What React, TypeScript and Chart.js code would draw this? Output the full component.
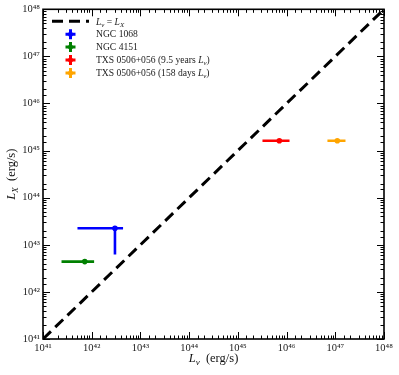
import React, { useEffect, useRef } from 'react';
import { Chart, registerables } from 'chart.js';

Chart.register(...registerables);

const SERIF = '"Liberation Serif", "DejaVu Serif", serif';

// Axis range (erg/s)
const axisMin = 1e41;
const axisMax = 1e48;

// Diagonal L_nu = L_X
const diagonal = [1e41, 1e48];

// Sources
const sourceNames = ['NGC 1068', 'NGC 4151', 'TXS 0506+056 (9.5 years ', 'TXS 0506+056 (158 days '];
const sourceHasNu = [false, false, true, true];
const sourceColors = ['#0000ff', '#008000', '#ff0000', '#ffa500'];
const lnuValues = [3.0e42, 7.2e41, 7.1e45, 1.1e47];
const lxValues = [2.24e43, 4.4e42, 1.62e45, 1.62e45];
const lnuLow = [5.1e41, 2.4e41, 3.2e45, 6.9e46];
const lnuHigh = [4.4e42, 1.12e42, 1.15e46, 1.62e47];
const lxLow = [6.2e42, null, null, null];
const lxHigh = [2.24e43, null, null, null];

const SUP: Record<string, string> = { '0': '⁰', '1': '¹', '2': '²', '3': '³', '4': '⁴', '5': '⁵', '6': '⁶', '7': '⁷', '8': '⁸', '9': '⁹', '-': '⁻' };
const toSup = (n: number) => String(n).split('').map((c) => SUP[c] || c).join('');

const tickLabel = (v: any) => {
  const e = Math.log10(Number(v));
  const r = Math.round(e);
  if (Math.abs(e - r) < 1e-6) return '10' + toSup(r);
  return '';
};

type Part = { t: string; it?: boolean; sub?: boolean };

function drawParts(ctx: CanvasRenderingContext2D, parts: Part[], x: number, y: number, size: number, align: 'left' | 'center' = 'left') {
  const fontFor = (p: Part) => `${p.it ? 'italic ' : ''}${p.sub ? size * 0.72 : size}px ${SERIF}`;
  let total = 0;
  for (const p of parts) {
    ctx.font = fontFor(p);
    total += ctx.measureText(p.t).width;
  }
  let cx = align === 'center' ? x - total / 2 : x;
  ctx.textAlign = 'left';
  ctx.textBaseline = 'alphabetic';
  for (const p of parts) {
    ctx.font = fontFor(p);
    ctx.fillText(p.t, cx, y + (p.sub ? size * 0.22 : 0));
    cx += ctx.measureText(p.t).width;
  }
}

const decorPlugin = {
  id: 'decor',
  afterDraw(chart: any) {
    const ctx: CanvasRenderingContext2D = chart.ctx;
    const { left, right, top, bottom } = chart.chartArea;
    const xs = chart.scales.x;
    const ys = chart.scales.y;
    ctx.save();
    ctx.strokeStyle = '#000';
    // inward ticks on all four sides
    const isMajor = (v: number) => {
      const e = Math.log10(v);
      return Math.abs(e - Math.round(e)) < 1e-6;
    };
    ctx.lineWidth = 1;
    for (const t of xs.ticks) {
      const px = Math.round(xs.getPixelForValue(t.value)) + 0.5;
      const len = isMajor(t.value) ? 7 : 3.5;
      ctx.beginPath();
      ctx.moveTo(px, bottom);
      ctx.lineTo(px, bottom - len);
      ctx.moveTo(px, top);
      ctx.lineTo(px, top + len);
      ctx.stroke();
    }
    for (const t of ys.ticks) {
      const py = Math.round(ys.getPixelForValue(t.value)) + 0.5;
      const len = isMajor(t.value) ? 7 : 3.5;
      ctx.beginPath();
      ctx.moveTo(left, py);
      ctx.lineTo(left + len, py);
      ctx.moveTo(right, py);
      ctx.lineTo(right - len, py);
      ctx.stroke();
    }
    // frame
    ctx.lineWidth = 1.6;
    ctx.strokeRect(left, top, right - left, bottom - top);

    // legend
    const lx0 = left + 9;
    const boxW = 37;
    const ly0 = top + 12;
    const step = 12.9;
    const textX = lx0 + boxW + 7;
    const fs = 9.6;
    // dashed line entry
    ctx.save();
    ctx.strokeStyle = '#000';
    ctx.lineWidth = 3;
    ctx.setLineDash([11, 6]);
    ctx.beginPath();
    ctx.moveTo(lx0, ly0);
    ctx.lineTo(lx0 + boxW, ly0);
    ctx.stroke();
    ctx.restore();
    ctx.fillStyle = '#222';
    drawParts(ctx, [
      { t: 'L', it: true }, { t: 'ν', it: true, sub: true }, { t: ' = ' }, { t: 'L', it: true }, { t: 'X', it: true, sub: true },
    ], textX, ly0 + 3.2, fs);
    for (let i = 0; i < sourceNames.length; i++) {
      const cy = ly0 + step * (i + 1);
      const cx = lx0 + boxW / 2;
      ctx.save();
      ctx.strokeStyle = sourceColors[i];
      ctx.lineWidth = 3;
      ctx.beginPath();
      ctx.moveTo(cx - 5, cy);
      ctx.lineTo(cx + 5, cy);
      ctx.moveTo(cx, cy - 5);
      ctx.lineTo(cx, cy + 5);
      ctx.stroke();
      ctx.fillStyle = sourceColors[i];
      ctx.beginPath();
      ctx.arc(cx, cy, 2.5, 0, Math.PI * 2);
      ctx.fill();
      ctx.restore();
      const parts: Part[] = [{ t: sourceNames[i] }];
      if (sourceHasNu[i]) {
        parts.push({ t: 'L', it: true }, { t: 'ν', it: true, sub: true }, { t: ')' });
      }
      ctx.fillStyle = '#222';
      drawParts(ctx, parts, textX, cy + 3.2, fs);
    }

    // axis titles
    ctx.fillStyle = '#111';
    const tfs = 12.5;
    drawParts(ctx, [{ t: 'L', it: true }, { t: 'ν', it: true, sub: true }, { t: '  (erg/s)' }], (left + right) / 2, 362, tfs, 'center');
    ctx.save();
    ctx.translate(15, (top + bottom) / 2);
    ctx.rotate(-Math.PI / 2);
    drawParts(ctx, [{ t: 'L', it: true }, { t: 'X', it: true, sub: true }, { t: '  (erg/s)' }], 0, 0, tfs, 'center');
    ctx.restore();
    ctx.restore();
  },
};

export default function App() {
  const ref = useRef<HTMLCanvasElement | null>(null);
  useEffect(() => {
    document.body.style.margin = '0';
    const datasets: any[] = [];
    datasets.push({
      type: 'line',
      data: [
        { x: diagonal[0], y: diagonal[0] },
        { x: diagonal[1], y: diagonal[1] },
      ],
      borderColor: '#000',
      borderWidth: 3,
      borderDash: [11, 6],
      pointRadius: 0,
      fill: false,
    });
    for (let i = 0; i < sourceNames.length; i++) {
      datasets.push({
        type: 'line',
        data: [
          { x: lnuLow[i], y: lxValues[i] },
          { x: lnuHigh[i], y: lxValues[i] },
        ],
        borderColor: sourceColors[i],
        borderWidth: 2.6,
        pointRadius: 0,
        fill: false,
      });
      if (lxLow[i] !== null) {
        datasets.push({
          type: 'line',
          data: [
            { x: lnuValues[i], y: lxLow[i] },
            { x: lnuValues[i], y: lxHigh[i] },
          ],
          borderColor: sourceColors[i],
          borderWidth: 2.6,
          pointRadius: 0,
          fill: false,
        });
      }
      datasets.push({
        type: 'scatter',
        data: [{ x: lnuValues[i], y: lxValues[i] }],
        backgroundColor: sourceColors[i],
        borderColor: sourceColors[i],
        borderWidth: 0,
        pointRadius: 2.8,
      });
    }
    const axisCommon = (fit: (s: any) => void) => ({
      type: 'logarithmic',
      min: axisMin,
      max: axisMax,
      grid: { display: false, drawTicks: false },
      border: { display: false },
      ticks: {
        autoSkip: false,
        maxRotation: 0,
        minRotation: 0,
        color: '#222',
        font: { family: SERIF, size: 10.5 },
        callback: tickLabel,
      },
      afterFit: fit,
    });
    const xAxis: any = axisCommon((s: any) => { s.height = 36; });
    xAxis.position = 'bottom';
    xAxis.ticks.padding = 3;
    const yAxis: any = axisCommon((s: any) => { s.width = 43; });
    yAxis.position = 'left';
    yAxis.ticks.padding = 3;
    const chart = new Chart(ref.current as HTMLCanvasElement, {
      type: 'scatter',
      data: { datasets },
      options: {
        animation: false,
        responsive: false,
        devicePixelRatio: 1,
        layout: { padding: { top: 9, right: 15, left: 0, bottom: 0 } },
        plugins: { legend: { display: false }, tooltip: { enabled: false } },
        scales: { x: xAxis, y: yAxis },
      },
      plugins: [decorPlugin],
    } as any);
    return () => chart.destroy();
  }, []);
  return (
    <div style={{ position: 'absolute', left: 0, top: 0, width: 399, height: 375, background: '#fff' }}>
      <canvas ref={ref} width={399} height={375} style={{ width: 399, height: 375, display: 'block' }} />
    </div>
  );
}
